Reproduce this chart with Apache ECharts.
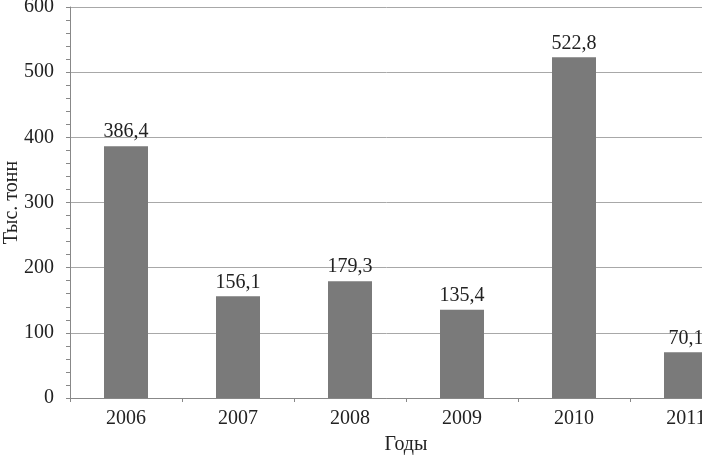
<!DOCTYPE html>
<html><head><meta charset="utf-8">
<script src="https://cdn.jsdelivr.net/npm/echarts@6/dist/echarts.min.js"></script>
<style>html,body{margin:0;padding:0;background:#fff}#c{width:702px;height:455px}</style>
</head><body><div id="c"></div>
<script>
const categories = ['2006','2007','2008','2009','2010','2011'];
const values = [386.4, 156.1, 179.3, 135.4, 522.8, 70.1];
const yTicks = [0, 100, 200, 300, 400, 500, 600];
const xName = 'Годы';
const yName = 'Тыс. тонн';

const font = 'Liberation Serif';
const chart = echarts.init(document.getElementById('c'), null, {renderer:'canvas'});
chart.setOption({
  animation: false,
  backgroundColor: '#fff',
  grid: {left: 70, right: -40, top: 7, bottom: 57, containLabel: false, outerBoundsMode: 'none'},
  xAxis: {
    type: 'category', data: categories,
    name: xName, nameLocation: 'middle', nameGap: 37, nameMoveOverlap: false,
    nameTextStyle: {fontFamily: font, fontSize: 20, color: '#222'},
    axisLine: {lineStyle: {color: '#888', width: 1}},
    axisTick: {show: true, alignWithLabel: false, length: 4, lineStyle: {color: '#888'}},
    axisLabel: {fontFamily: font, fontSize: 20, color: '#222', margin: 11}
  },
  yAxis: {
    type: 'value', min: yTicks[0], max: yTicks[yTicks.length-1], interval: 100,
    name: yName, nameLocation: 'middle', nameGap: 48, nameRotate: 90, nameMoveOverlap: false,
    nameTextStyle: {fontFamily: font, fontSize: 20, color: '#222'},
    axisLine: {show: true, lineStyle: {color: '#888'}},
    axisTick: {show: true, length: 4, lineStyle: {color: '#888'}},
    minorTick: {show: true, splitNumber: 5, length: 4, lineStyle: {color: '#888'}},
    splitLine: {show: true, lineStyle: {color: '#a8a8a8', width: 1}},
    axisLabel: {fontFamily: font, fontSize: 20, color: '#222', margin: 16}
  },
  series: [{
    type: 'bar', data: values, barWidth: 44,
    itemStyle: {color: '#7a7a7a'},
    label: {show: true, position: 'top', distance: 4, fontFamily: font, fontSize: 20, color: '#222',
      formatter: p => String(p.value).replace('.', ',')}
  }]
});
</script></body></html>
